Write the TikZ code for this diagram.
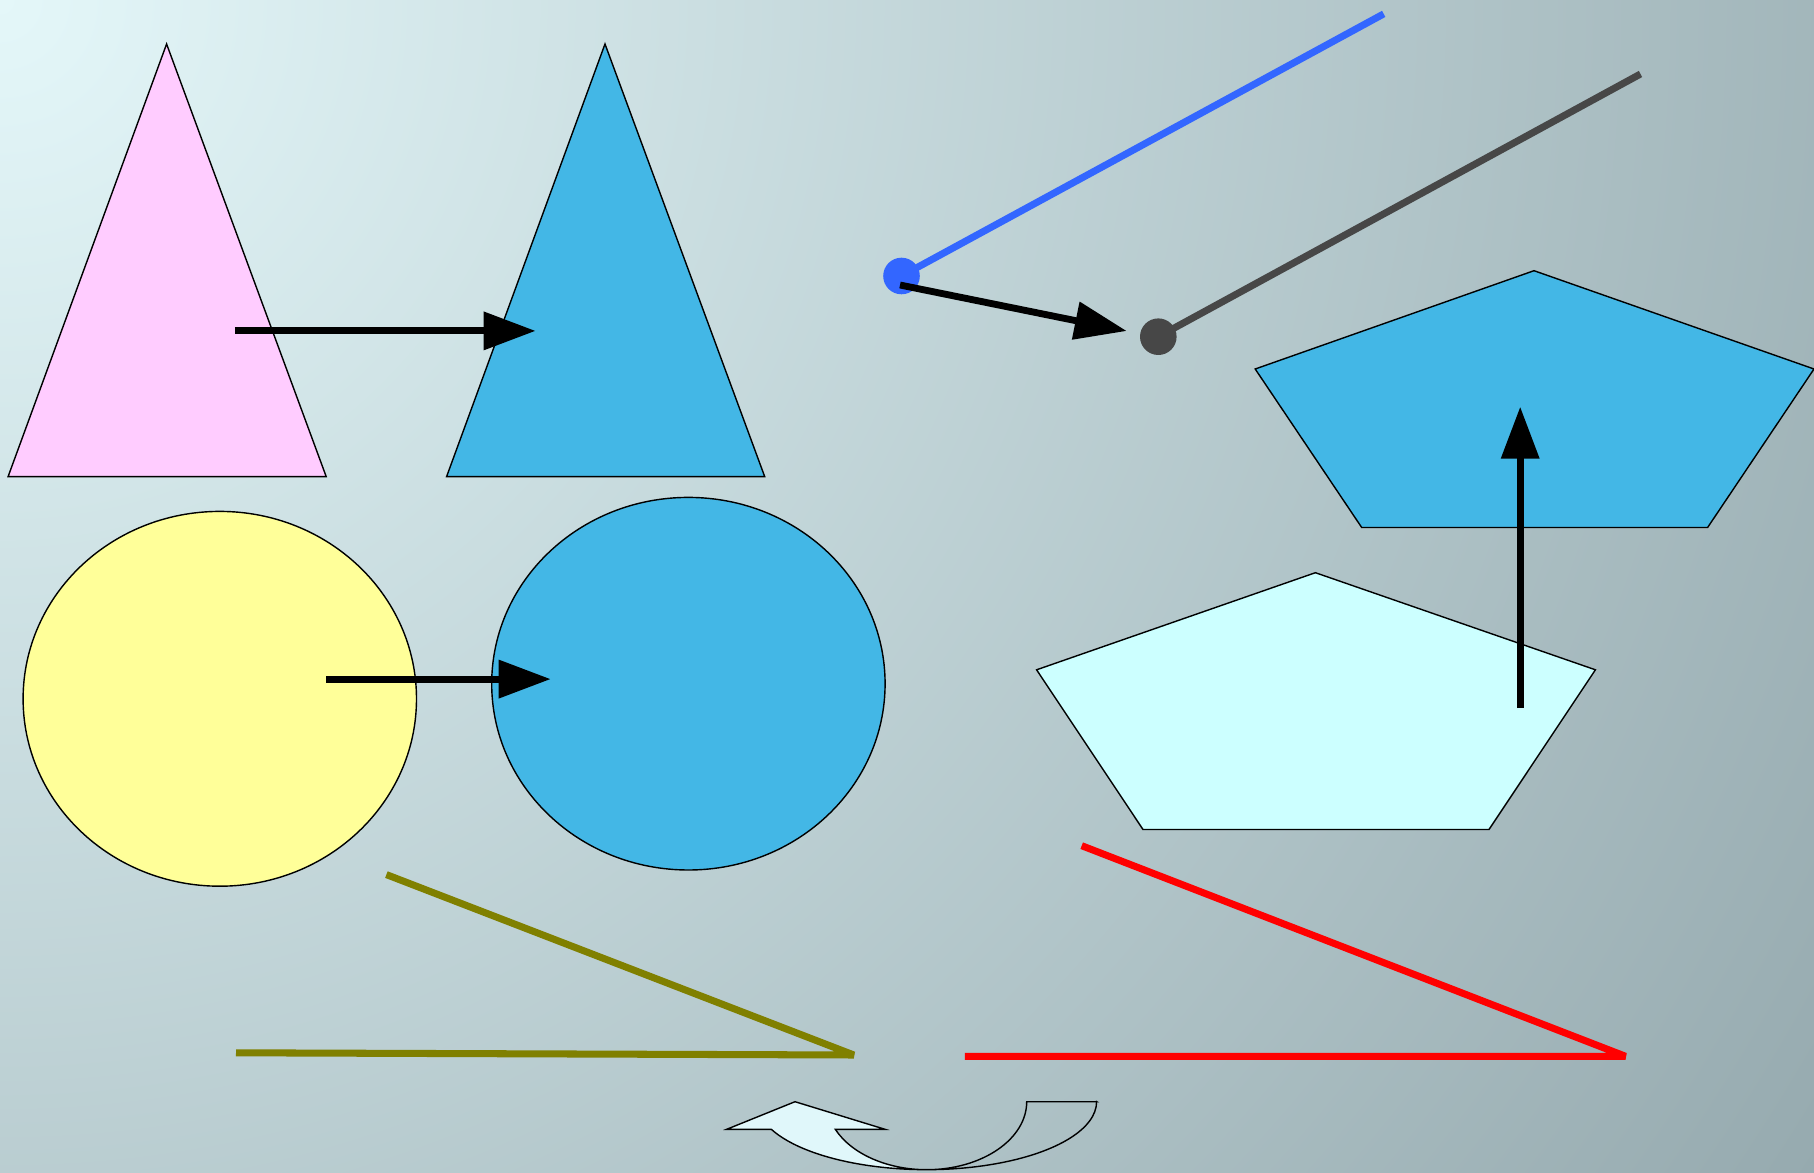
\documentclass[tikz,border=0pt]{standalone}
\usepackage{tikz}
\usetikzlibrary{arrows.meta}
\definecolor{bglight}{RGB}{228,247,249}
\definecolor{bgdark}{RGB}{150,170,175}
\definecolor{pink1}{RGB}{255,204,255}
\definecolor{sky1}{RGB}{67,183,230}
\definecolor{yellow1}{RGB}{255,255,153}
\definecolor{cyan1}{RGB}{204,255,255}
\definecolor{blue1}{RGB}{51,102,255}
\definecolor{gray1}{RGB}{71,71,71}
\definecolor{olive1}{RGB}{128,128,0}
\definecolor{cyan2}{RGB}{224,247,250}
\pgfdeclareradialshading{bgglow}{\pgfpointorigin}{color(0cm)=(bglight); color(21.6cm)=(bgdark); color(23cm)=(bgdark)}
\tikzset{
  outlined/.style={draw=black,line width=0.4pt},
  movearrow/.style={-{Triangle[length=5.2mm,width=3.7mm]},line width=1.95pt},
  fatline/.style={line width=2pt,line join=bevel}
}

\begin{document}
\begin{tikzpicture}[x=0.01cm,y=-0.01cm]
\useasboundingbox (0,0) rectangle (1814,1173);
\begin{scope}
\clip (0,0) rectangle (1814,1173);
\pgfuseshading{bgglow}
\end{scope}
% triangles
\draw[outlined,fill=pink1] (166.6,44)--(8.1,476.6)--(326.2,476.6)--cycle;
\draw[outlined,fill=sky1] (605,44)--(446.6,476.6)--(764.7,476.6)--cycle;
\coordinate (tri from) at (234.8,330.9);
\coordinate (tri to) at (535.6,330.9);
\draw[movearrow] (tri from)--(tri to);
% ellipses
\draw[outlined,fill=yellow1] (219.8,698.8) ellipse[x radius=196.7,y radius=187.4];
\draw[outlined,fill=sky1] (688.4,683.7) ellipse[x radius=196.7,y radius=186.3];
\coordinate (ell from) at (326.2,679.1);
\coordinate (ell to) at (550.7,679.1);
\draw[movearrow] (ell from)--(ell to);
% lines with dots
\coordinate (bluedot) at (901.5,276);
\coordinate (graydot) at (1158.3,336.7);
\draw[blue1,fatline] (bluedot)--(1383.7,13.9);
\fill[blue1] (bluedot) circle[radius=18.3];
\draw[gray1,fatline] (graydot)--(1640.5,74);
\fill[gray1] (graydot) circle[radius=18.3];
\coordinate (dot from) at (900,285);
\coordinate (dot to) at (1126.7,331);
\draw[movearrow] (dot from)--(dot to);
% pentagons
\draw[outlined,fill=sky1] (1534,270.7)--(1814,369)--(1707.6,527.5)--(1361.7,527.5)--(1255.2,369)--cycle;
\draw[outlined,fill=cyan1] (1315.4,572.7)--(1595.4,669.8)--(1489,829.5)--(1143,829.5)--(1036.6,669.8)--cycle;
\coordinate (pent from) at (1520.2,708);
\coordinate (pent to) at (1520.2,406.7);
\draw[movearrow] (pent from)--(pent to);
% bent lines
\draw[olive1,fatline] (386.4,874.6)--(853.8,1055)--(236,1052.8);
\draw[red,fatline] (1081.7,845.7)--(1625.5,1056.3)--(964.9,1056.3);
% curved arrow
\fill[cyan2] (926.7,1169.7) arc[start angle=90,end angle=156,x radius=100,y radius=68]
  --(885,1129.3)--(795,1101.7)--(726.7,1129.3)--(771.3,1129.3)
  arc[start angle=156,end angle=90,x radius=170,y radius=68]--cycle;
\draw[outlined] (1096.7,1101.7)--(1026.7,1101.7)
  arc[start angle=0,end angle=156,x radius=100,y radius=68]
  --(885,1129.3)--(795,1101.7)--(726.7,1129.3)--(771.3,1129.3)
  arc[start angle=156,end angle=0,x radius=170,y radius=68]--cycle;
\end{tikzpicture}
\end{document}
